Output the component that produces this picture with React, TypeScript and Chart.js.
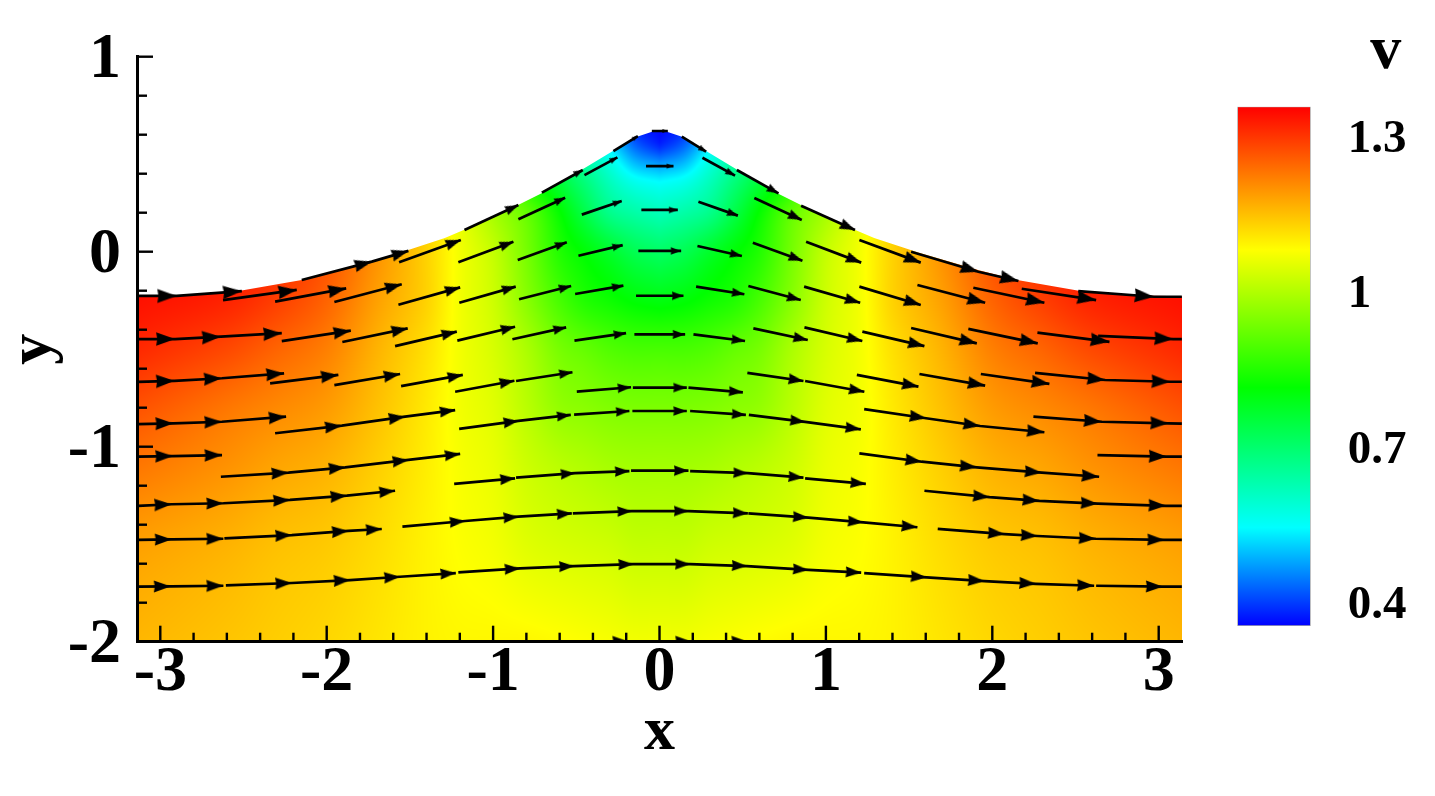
import React, { useEffect, useRef } from "react";
import { Chart, registerables } from "chart.js";

Chart.register(...registerables);

const FONT = "'Liberation Serif', serif";

const xTickLabels = [-3, -2, -1, 0, 1, 2, 3];
const yTickLabels = [-2, -1, 0, 1];
const xMinorTicks = [-2.8, -2.6, -2.4, -2.2, -1.8, -1.6, -1.4, -1.2, -0.8, -0.6, -0.4, -0.2, 0.2, 0.4, 0.6, 0.8, 1.2, 1.4, 1.6, 1.8, 2.2, 2.4, 2.6, 2.8];
const yMinorTicks = [-1.8, -1.6, -1.4, -1.2, -0.8, -0.6, -0.4, -0.2, 0.2, 0.4, 0.6, 0.8];
const colorbarTicks = [0.4, 0.7, 1, 1.3];

// colour map: value -> colour
const mapValues = [0.356, 0.546, 0.816, 1.082, 1.358];
const mapColors = [[0, 0, 255], [0, 255, 255], [0, 255, 0], [255, 255, 0], [255, 0, 0]];

// top wall of the domain (symmetric in x)
const wallX = [0, 0.045, 0.135, 0.28, 0.477, 0.705, 0.85, 1.078, 1.29, 1.56, 1.92, 2.15, 2.52, 2.88, 3.14];
const wallY = [0.617, 0.615, 0.59, 0.517, 0.415, 0.301, 0.24, 0.147, 0.07, -0.006, -0.095, -0.145, -0.2, -0.225, -0.228];

// speed, on |x| columns and y rows
const fieldX = [0, 0.15, 0.3, 0.45, 0.6, 0.8, 1, 1.2, 1.4, 1.7, 2, 2.3, 2.6, 3.14];
const fieldY = [0.65, 0.55, 0.45, 0.35, 0.2, 0, -0.25, -0.5, -0.8, -1.1, -1.5, -2];
const fieldRows = [
  [0.36, 0.38, 0.5, 0.6, 0.7, 0.8, 0.95, 1.06, 1.13, 1.2, 1.27, 1.31, 1.34, 1.35],
  [0.38, 0.43, 0.53, 0.62, 0.7, 0.8, 0.95, 1.06, 1.13, 1.2, 1.27, 1.31, 1.34, 1.35],
  [0.47, 0.5, 0.58, 0.65, 0.72, 0.82, 0.96, 1.06, 1.13, 1.2, 1.27, 1.31, 1.34, 1.35],
  [0.55, 0.57, 0.62, 0.69, 0.76, 0.85, 0.97, 1.06, 1.13, 1.2, 1.27, 1.31, 1.34, 1.35],
  [0.62, 0.64, 0.67, 0.74, 0.82, 0.92, 0.99, 1.06, 1.13, 1.2, 1.27, 1.31, 1.34, 1.35],
  [0.71, 0.73, 0.77, 0.81, 0.85, 0.94, 1.02, 1.07, 1.13, 1.2, 1.27, 1.31, 1.34, 1.35],
  [0.8, 0.81, 0.83, 0.85, 0.89, 0.96, 1.03, 1.07, 1.13, 1.185, 1.25, 1.29, 1.32, 1.34],
  [0.89, 0.89, 0.9, 0.92, 0.94, 0.995, 1.04, 1.07, 1.115, 1.165, 1.22, 1.25, 1.28, 1.315],
  [0.945, 0.945, 0.95, 0.96, 0.97, 1.01, 1.05, 1.07, 1.105, 1.15, 1.19, 1.21, 1.23, 1.27],
  [0.985, 0.985, 0.99, 1, 1.01, 1.03, 1.06, 1.075, 1.1, 1.135, 1.165, 1.18, 1.2, 1.23],
  [1.02, 1.02, 1.03, 1.035, 1.04, 1.05, 1.07, 1.08, 1.095, 1.12, 1.14, 1.15, 1.165, 1.185],
  [1.07, 1.07, 1.075, 1.08, 1.085, 1.09, 1.09, 1.09, 1.095, 1.11, 1.125, 1.135, 1.145, 1.16],
];

// velocity arrows: each chain is a tail followed by arrow tips
type Chain = number[][];
const wallChains: Chain[] = [
  [[-3.133, -0.227], [-2.901, -0.227], [-2.51, -0.202]],
  [[-2.15, -0.145], [-1.729, -0.051], [-1.509, 0.004]],
  [[-1.172, 0.111], [-0.848, 0.239]],
  [[-0.707, 0.303], [-0.461, 0.419]],
  [[-0.277, 0.516], [-0.13, 0.593]],
  [[-0.046, 0.619], [0.05, 0.619]],
  [[0.134, 0.59], [0.28, 0.513]],
  [[0.465, 0.419], [0.715, 0.299]],
  [[0.851, 0.236], [1.175, 0.111]],
  [[1.512, 0], [1.916, -0.103], [2.157, -0.15]],
  [[2.517, -0.202], [2.972, -0.231], [3.139, -0.231]],
];
const upperChains: Chain[] = [
  [[-0.451, 0.393], [-0.253, 0.484]],
  [[-0.081, 0.439], [0.084, 0.439]],
  [[0.258, 0.482], [0.454, 0.39]],
  [[-0.848, 0.166], [-0.567, 0.277]],
  [[-0.467, 0.19], [-0.227, 0.26]],
  [[-0.109, 0.214], [0.11, 0.214]],
  [[0.234, 0.256], [0.471, 0.185]],
  [[0.57, 0.275], [0.855, 0.163]],
  [[-1.565, -0.054], [-1.194, 0.06]],
  [[-1.209, -0.054], [-0.878, 0.051]],
  [[-0.852, -0.043], [-0.557, 0.048]],
  [[-0.487, -0.021], [-0.221, 0.034]],
  [[-0.127, 0.004], [0.13, 0.004]],
  [[0.228, 0.029], [0.495, -0.022]],
  [[0.561, 0.046], [0.859, -0.046]],
  [[0.881, 0.051], [1.212, -0.056]],
  [[1.201, 0.06], [1.57, -0.056]],
];
const rowChains1: Chain[] = [
  [[-2.623, -0.248], [-2.18, -0.196]],
  [[-2.31, -0.256], [-1.883, -0.188]],
  [[-1.954, -0.258], [-1.549, -0.167]],
  [[-1.569, -0.272], [-1.198, -0.183]],
  [[-1.203, -0.262], [-0.864, -0.179]],
  [[-0.844, -0.244], [-0.531, -0.176]],
  [[-0.507, -0.217], [-0.217, -0.174]],
  [[-0.141, -0.226], [0.144, -0.226]],
  [[0.22, -0.179], [0.51, -0.218]],
  [[0.534, -0.176], [0.849, -0.248]],
  [[0.869, -0.179], [1.206, -0.262]],
  [[1.201, -0.179], [1.57, -0.273]],
  [[1.55, -0.171], [1.957, -0.262]],
  [[1.886, -0.185], [2.313, -0.262]],
  [[2.177, -0.19], [2.624, -0.248]],
];
const rowChains2: Chain[] = [
  [[-3.133, -0.448], [-2.911, -0.448], [-2.636, -0.436], [-2.27, -0.418]],
  [[-2.27, -0.459], [-1.855, -0.405]],
  [[-1.906, -0.463], [-1.513, -0.393]],
  [[-1.589, -0.484], [-1.218, -0.41]],
  [[-1.215, -0.456], [-0.868, -0.385]],
  [[-0.884, -0.449], [-0.561, -0.388]],
  [[-0.511, -0.456], [-0.201, -0.418]],
  [[-0.151, -0.424], [0.154, -0.424]],
  [[0.204, -0.424], [0.514, -0.458]],
  [[0.564, -0.393], [0.891, -0.453]],
  [[0.871, -0.388], [1.219, -0.458]],
  [[1.219, -0.41], [1.592, -0.484]],
  [[1.512, -0.391], [1.907, -0.47]],
  [[1.856, -0.396], [2.273, -0.47]],
  [[2.271, -0.415], [2.704, -0.462]],
  [[2.636, -0.432], [3.088, -0.448], [3.139, -0.448]],
];
const rowChains3: Chain[] = [
  [[-3.133, -0.668], [-2.915, -0.662], [-2.63, -0.649], [-2.256, -0.624]],
  [[-2.34, -0.675], [-1.93, -0.632]],
  [[-1.954, -0.684], [-1.559, -0.627]],
  [[-1.553, -0.689], [-1.182, -0.632]],
  [[-1.228, -0.718], [-0.872, -0.662]],
  [[-0.862, -0.663], [-0.523, -0.618]],
  [[-0.497, -0.718], [-0.171, -0.695]],
  [[-0.16, -0.697], [0.164, -0.697]],
  [[0.174, -0.697], [0.501, -0.721]],
  [[0.528, -0.621], [0.865, -0.663]],
  [[0.875, -0.663], [1.231, -0.718]],
  [[1.186, -0.632], [1.556, -0.692]],
  [[1.562, -0.627], [1.957, -0.687]],
  [[1.931, -0.627], [2.343, -0.678]],
  [[2.257, -0.621], [2.678, -0.658], [3.068, -0.667], [3.139, -0.667]],
];
const rowChains4: Chain[] = [
  [[-3.133, -0.884], [-2.921, -0.88], [-2.63, -0.872], [-2.244, -0.846]],
  [[-2.31, -0.931], [-1.909, -0.892], [-1.529, -0.846], [-1.228, -0.812]],
  [[-1.204, -0.909], [-0.848, -0.868], [-0.533, -0.837]],
  [[-0.513, -0.836], [-0.181, -0.817]],
  [[-0.163, -0.817], [0.164, -0.817]],
  [[0.184, -0.817], [0.519, -0.837]],
  [[0.537, -0.837], [0.875, -0.873], [1.21, -0.911]],
  [[1.23, -0.807], [1.602, -0.854], [1.927, -0.894], [2.313, -0.926]],
  [[2.247, -0.846], [2.658, -0.872], [3.058, -0.88], [3.139, -0.882]],
];
const rowChains5: Chain[] = [
  [[-3.133, -1.051], [-2.925, -1.048], [-2.629, -1.043]],
  [[-2.636, -1.154], [-2.23, -1.133], [-1.889, -1.106], [-1.509, -1.068], [-1.198, -1.037]],
  [[-1.234, -1.191], [-0.868, -1.162]],
  [[-0.862, -1.159], [-0.507, -1.136], [-0.181, -1.125]],
  [[-0.171, -1.123], [0.174, -1.123]],
  [[0.184, -1.125], [0.531, -1.136], [0.865, -1.159]],
  [[0.875, -1.162], [1.24, -1.191]],
  [[1.201, -1.034], [1.576, -1.077], [1.907, -1.106], [2.297, -1.133], [2.642, -1.154]],
  [[2.632, -1.043], [3.049, -1.051], [3.139, -1.051]],
];
const rowChains6: Chain[] = [
  [[-3.133, -1.303], [-2.931, -1.295], [-2.621, -1.29], [-2.22, -1.273], [-1.879, -1.251], [-1.589, -1.226]],
  [[1.592, -1.226], [1.983, -1.259], [2.283, -1.278], [2.634, -1.292], [3.044, -1.303], [3.139, -1.303]],
];
const rowChains7: Chain[] = [
  [[-3.133, -1.478], [-2.931, -1.475], [-2.621, -1.472]],
  [[-2.615, -1.47], [-2.21, -1.453], [-1.87, -1.432], [-1.669, -1.422]],
  [[-1.545, -1.41], [-1.168, -1.381], [-0.848, -1.359], [-0.527, -1.342]],
  [[-0.521, -1.342], [-0.166, -1.33], [0.174, -1.33], [0.531, -1.342]],
  [[0.534, -1.342], [0.895, -1.364], [1.225, -1.388], [1.55, -1.413]],
  [[1.672, -1.421], [2.073, -1.448], [2.271, -1.458], [2.622, -1.472], [3.034, -1.478], [3.139, -1.478]],
];
const rowChains8: Chain[] = [
  [[-3.133, -1.718], [-2.937, -1.716], [-2.621, -1.713]],
  [[-2.606, -1.711], [-2.21, -1.699], [-1.859, -1.684], [-1.559, -1.667], [-1.224, -1.648]],
  [[-1.209, -1.644], [-0.838, -1.624], [-0.513, -1.612], [-0.157, -1.602], [0.184, -1.602], [0.525, -1.612], [0.895, -1.632], [1.212, -1.646]],
  [[1.23, -1.648], [1.606, -1.67], [1.953, -1.689], [2.261, -1.703], [2.612, -1.713]],
  [[2.624, -1.713], [3.025, -1.718], [3.139, -1.718]],
];
const floorChains: Chain[] = [[[-0.5, -2], [-0.19, -1.998], [0.188, -1.998], [0.525, -1.998]]];

const allChains = [...wallChains, ...upperChains, ...rowChains1, ...rowChains2, ...rowChains3, ...rowChains4, ...rowChains5, ...rowChains6, ...rowChains7, ...rowChains8, ...floorChains];

function bracket(list: number[], v: number, descending = false) {
  const n = list.length;
  for (let i = 0; i < n - 1; i++) {
    const a = list[i], b = list[i + 1];
    if (descending ? v >= b : v <= b) {
      const t = (v - a) / (b - a);
      return [i, Math.max(0, Math.min(1, t))];
    }
  }
  return [n - 2, 1];
}

// smooth shading between the nodes of the table (Hermite blend)
function hermite(list: number[], vals: (k: number) => number, i: number, t: number) {
  const n = list.length;
  const slope = (k: number) => {
    const a = Math.max(0, k - 1), b = Math.min(n - 1, k + 1);
    return (vals(b) - vals(a)) / (list[b] - list[a]);
  };
  const h = list[i + 1] - list[i];
  const p0 = vals(i), p1 = vals(i + 1), m0 = slope(i) * h, m1 = slope(i + 1) * h;
  const t2 = t * t, t3 = t2 * t;
  return (2 * t3 - 3 * t2 + 1) * p0 + (t3 - 2 * t2 + t) * m0 + (-2 * t3 + 3 * t2) * p1 + (t3 - t2) * m1;
}

function speedAt(x: number, y: number) {
  const [i, s] = bracket(fieldX, Math.abs(x));
  const [j, t] = bracket(fieldY, y, true);
  return hermite(fieldY, (r) => hermite(fieldX, (c) => fieldRows[r][c], i, s), j, t);
}

function colorOf(v: number) {
  const [i, t] = bracket(mapValues, v);
  const a = mapColors[i], b = mapColors[i + 1];
  return [0, 1, 2].map((k) => Math.round(a[k] + (b[k] - a[k]) * t));
}

const headCache = new Map<number, HTMLCanvasElement>();
function headImage(len: number) {
  const key = Math.round(len * 2) / 2;
  let c = headCache.get(key);
  if (!c) {
    const w = key * 0.72;
    c = document.createElement("canvas");
    c.width = Math.ceil(2 * key + 4);
    c.height = Math.ceil(w + 4);
    const g = c.getContext("2d")!;
    const cx = c.width / 2, cy = c.height / 2;
    g.fillStyle = "#000";
    g.beginPath();
    g.moveTo(cx, cy);
    g.lineTo(cx - key, cy - w / 2);
    g.lineTo(cx - key * 0.94, cy);
    g.lineTo(cx - key, cy + w / 2);
    g.closePath();
    g.fill();
    headCache.set(key, c);
  }
  return c;
}

const fieldPlugin = {
  id: "speedField",
  beforeDatasetsDraw(chart: any) {
    const { ctx, chartArea: a, scales } = chart;
    const x = scales.x, y = scales.y;
    const w = Math.ceil(a.right - a.left), h = Math.ceil(a.bottom - a.top);
    const off = document.createElement("canvas");
    off.width = w;
    off.height = h;
    const g = off.getContext("2d")!;
    const img = g.createImageData(w, h);
    for (let j = 0; j < h; j++) {
      const yv = y.getValueForPixel(a.top + j + 0.5);
      for (let i = 0; i < w; i++) {
        const xv = x.getValueForPixel(a.left + i + 0.5);
        const c = colorOf(speedAt(xv, yv));
        const p = (j * w + i) * 4;
        img.data[p] = c[0];
        img.data[p + 1] = c[1];
        img.data[p + 2] = c[2];
        img.data[p + 3] = 255;
      }
    }
    g.putImageData(img, 0, 0);
    ctx.save();
    ctx.beginPath();
    ctx.moveTo(a.left, a.bottom);
    for (let k = wallX.length - 1; k >= 0; k--) ctx.lineTo(x.getPixelForValue(-wallX[k]), y.getPixelForValue(wallY[k]));
    for (let k = 1; k < wallX.length; k++) ctx.lineTo(x.getPixelForValue(wallX[k]), y.getPixelForValue(wallY[k]));
    ctx.lineTo(a.right, a.bottom);
    ctx.closePath();
    ctx.clip();
    ctx.drawImage(off, a.left, a.top);
    ctx.restore();
  },
};

const tickPlugin = {
  id: "innerTicks",
  afterDatasetsDraw(chart: any) {
    const { ctx, chartArea: a, scales } = chart;
    ctx.save();
    ctx.strokeStyle = "#000";
    ctx.lineWidth = 2.4;
    const xt = (v: number, l: number) => {
      const p = scales.x.getPixelForValue(v);
      ctx.beginPath();
      ctx.moveTo(p, a.bottom);
      ctx.lineTo(p, a.bottom - l);
      ctx.stroke();
    };
    const yt = (v: number, l: number) => {
      const p = scales.y.getPixelForValue(v);
      ctx.beginPath();
      ctx.moveTo(a.left, p);
      ctx.lineTo(a.left + l, p);
      ctx.stroke();
    };
    xTickLabels.forEach((v) => xt(v, 16));
    xMinorTicks.forEach((v) => xt(v, 9));
    yTickLabels.forEach((v) => yt(v, 16));
    yMinorTicks.forEach((v) => yt(v, 10));
    ctx.restore();
  },
};

const colorbarTitlePlugin = {
  id: "colorbarTitle",
  afterDraw(chart: any) {
    const { ctx, scales } = chart;
    ctx.save();
    ctx.font = `bold 62px ${FONT}`;
    ctx.fillStyle = "#000";
    ctx.textAlign = "center";
    ctx.textBaseline = "alphabetic";
    ctx.fillText("v", scales.y.left + 75, 68);
    ctx.restore();
  },
};

export default function App() {
  const mainRef = useRef<HTMLCanvasElement>(null);
  const barRef = useRef<HTMLCanvasElement>(null);

  useEffect(() => {
    const main = new Chart(mainRef.current!, {
      type: "scatter",
      plugins: [fieldPlugin, tickPlugin],
      data: {
        datasets: allChains.map((chain) => ({
          data: chain.map(([x, y]) => ({ x, y })),
          showLine: true,
          borderColor: "#000",
          borderWidth: 2.7,
          backgroundColor: "#000",
          pointRadius: (c: any) => (c.dataIndex === 0 || chain[c.dataIndex][0] > 3.13 ? 0 : 6),
          pointStyle: (c: any) => {
            const [x, y] = chain[c.dataIndex];
            return headImage(14.5 * speedAt(x, y));
          },
          rotation: (c: any) => {
            const i = Math.max(1, c.dataIndex);
            const { x: sx, y: sy } = c.chart.scales;
            const dx = sx.getPixelForValue(chain[i][0]) - sx.getPixelForValue(chain[i - 1][0]);
            const dy = sy.getPixelForValue(chain[i][1]) - sy.getPixelForValue(chain[i - 1][1]);
            return (Math.atan2(dy, dx) * 180) / Math.PI;
          },
        })),
      },
      options: {
        animation: false,
        responsive: false,
        events: [],
        layout: { padding: { top: 56.7, right: 253, left: 0, bottom: 0 } },
        plugins: { legend: { display: false }, tooltip: { enabled: false } },
        scales: {
          x: {
            type: "linear",
            min: -3.14,
            max: 3.14,
            grid: { display: false, drawTicks: false },
            border: { display: true, color: "#000", width: 3, z: 2 },
            afterBuildTicks: (s: any) => {
              s.ticks = xTickLabels.map((value) => ({ value }));
            },
            afterFit: (s: any) => {
              s.height = 796 - 641.7;
            },
            ticks: {
              autoSkip: false,
              maxRotation: 0,
              padding: -7,
              color: "#000",
              font: { family: FONT, size: 64, weight: "bold" },
              callback: (v: any) => String(v),
            },
            title: {
              display: true,
              text: "x",
              color: "#000",
              padding: { top: 0, bottom: 26 },
              font: { family: FONT, size: 62, weight: "bold" },
            },
          },
          y: {
            type: "linear",
            min: -2,
            max: 1,
            grid: { display: false, drawTicks: false },
            border: { display: true, color: "#000", width: 3, z: 2 },
            afterBuildTicks: (s: any) => {
              s.ticks = yTickLabels.map((value) => ({ value }));
            },
            afterFit: (s: any) => {
              s.width = 137;
            },
            ticks: {
              autoSkip: false,
              padding: 16,
              labelOffset: 3.5,
              color: "#000",
              font: { family: FONT, size: 64, weight: "bold" },
              callback: (v: any) => String(v),
            },
            title: {
              display: true,
              text: "y",
              color: "#000",
              padding: { top: -3, bottom: 0 },
              font: { family: FONT, size: 62, weight: "bold" },
            },
          },
        },
      } as any,
    });

    const bar = new Chart(barRef.current!, {
      type: "bar",
      plugins: [colorbarTitlePlugin],
      data: {
        labels: ["v"],
        datasets: [
          {
            data: [[mapValues[0], mapValues[mapValues.length - 1]]],
            barPercentage: 1,
            categoryPercentage: 1,
            borderColor: "#aaa",
            borderWidth: 1,
            borderSkipped: false,
            backgroundColor: (c: any) => {
              const a = c.chart.chartArea;
              if (!a) return "#000";
              const g = c.chart.ctx.createLinearGradient(0, a.bottom, 0, a.top);
              const lo = mapValues[0];
              const hi = mapValues[mapValues.length - 1];
              mapValues.forEach((v, i) => {
                g.addColorStop((v - lo) / (hi - lo), `rgb(${mapColors[i].join(",")})`);
              });
              return g;
            },
          },
        ],
      },
      options: {
        animation: false,
        responsive: false,
        events: [],
        layout: { padding: { left: 47.3, top: 106.7, bottom: 170, right: 0 } },
        plugins: { legend: { display: false }, tooltip: { enabled: false } },
        scales: {
          x: { display: false },
          y: {
            type: "linear",
            position: "right",
            min: mapValues[0],
            max: mapValues[mapValues.length - 1],
            grid: { display: false, drawTicks: false },
            border: { display: false },
            afterBuildTicks: (s: any) => {
              s.ticks = colorbarTicks.map((value) => ({ value }));
            },
            afterFit: (s: any) => {
              s.width = 1435 - 1310.7;
            },
            ticks: {
              autoSkip: false,
              padding: 37,
              labelOffset: 3,
              color: "#000",
              font: { family: FONT, size: 47, weight: "bold" },
              callback: (v: any) => String(v),
            },
          },
        },
      } as any,
    });

    return () => {
      main.destroy();
      bar.destroy();
    };
  }, []);

  return (
    <div style={{ position: "absolute", left: 0, top: 0, width: 1435, height: 796, background: "#fff" }}>
      <canvas ref={mainRef} width={1435} height={796} style={{ position: "absolute", left: 0, top: 0 }} />
      <canvas ref={barRef} width={245} height={796} style={{ position: "absolute", left: 1190, top: 0 }} />
    </div>
  );
}
